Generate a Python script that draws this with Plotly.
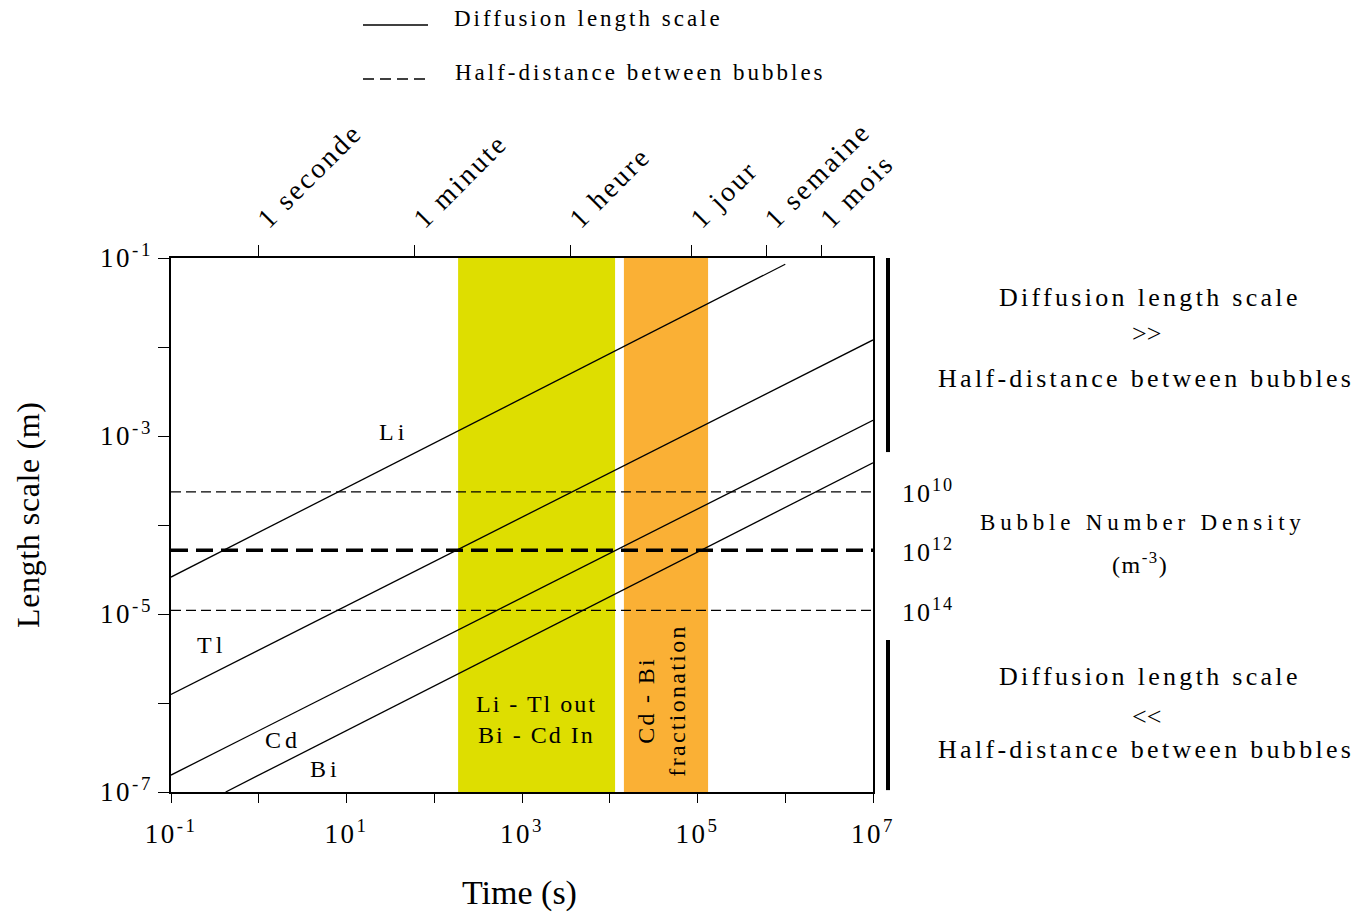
import numpy as np
import plotly.graph_objects as go

# ---------------- data ----------------
# diffusion length scale lines (time in s, length in m)
li_t = [0.1, 1e6]
li_L = [2.6e-5, 8.5e-2]
tl_t = [0.1, 1e7]
tl_L = [1.25e-6, 1.2e-2]
cd_t = [0.1, 1e7]
cd_L = [1.55e-7, 1.5e-3]
bi_t = [0.42, 1e7]
bi_L = [1.0e-7, 5.0e-4]

# half-distance between bubbles for bubble number densities
bnd_labels = ["10<sup>10</sup>", "10<sup>12</sup>", "10<sup>14</sup>"]
half_dist = [2.35e-4, 5.2e-5, 1.1e-5]
time_span = [0.1, 1e7]

# shaded time windows (s)
yellow_band = [187, 1.15e4]
orange_band = [1.45e4, 1.32e5]
length_span = [1e-7, 1e-1]

# regime bars on the right (length ranges, m)
bar_upper = [6.6e-4, 1e-1]
bar_lower = [1.05e-7, 5.1e-6]

# axis ticks
x_tickvals = [1e-1, 1e0, 1e1, 1e2, 1e3, 1e4, 1e5, 1e6, 1e7]
x_ticktext = ["10<sup>-1</sup>", "", "10<sup>1</sup>", "", "10<sup>3</sup>", "", "10<sup>5</sup>", "", "10<sup>7</sup>"]
y_tickvals = [1e-1, 1e-2, 1e-3, 1e-4, 1e-5, 1e-6, 1e-7]
y_ticktext = ["10<sup>-1</sup>", "", "10<sup>-3</sup>", "", "10<sup>-5</sup>", "", "10<sup>-7</sup>"]
top_tickvals = [1, 60, 3600, 86400, 604800, 2592000]
top_ticktext = ["1 seconde", "1 minute", "1 heure", "1 jour", "1 semaine", "1 mois"]

# element labels (position in data coords)
elem_names = ["Li", "Tl", "Cd", "Bi"]
elem_t = [34, 0.29, 1.9, 5.7]
elem_L = [1.1e-3, 4.5e-6, 3.8e-7, 1.8e-7]

FONT = "Liberation Serif"


def ls(text, px):
    if text == "":
        return ""
    return '<span style="letter-spacing:%.1fpx">%s</span>' % (px, text)


fig = go.Figure()


def band(xr, color):
    fig.add_trace(go.Scatter(
        x=[xr[0], xr[1], xr[1], xr[0], xr[0]],
        y=[length_span[0], length_span[0], length_span[1], length_span[1], length_span[0]],
        fill="toself", fillcolor=color, mode="lines", line=dict(width=0, color=color),
        hoverinfo="skip", showlegend=False))


band(yellow_band, "#DEDE00")
band(orange_band, "#FAB035")

# half-distance dashed lines
for i, h in enumerate(half_dist):
    thick = (i == 1)
    fig.add_trace(go.Scatter(
        x=time_span, y=[h, h], mode="lines",
        line=dict(color="black", width=3.6 if thick else 1.3,
                  dash="17px,8px" if thick else "10px,5px"),
        showlegend=False, hoverinfo="skip"))

# diffusion lines
for t, L in [(li_t, li_L), (tl_t, tl_L), (cd_t, cd_L), (bi_t, bi_L)]:
    fig.add_trace(go.Scatter(x=t, y=L, mode="lines",
                             line=dict(color="black", width=1.3),
                             showlegend=False, hoverinfo="skip"))

# invisible trace for top axis
fig.add_trace(go.Scatter(x=[1], y=[1e-3], xaxis="x2", mode="markers",
                         marker=dict(opacity=0), showlegend=False, hoverinfo="skip"))

annotations = []
# element labels
for n, t, L in zip(elem_names, elem_t, elem_L):
    annotations.append(dict(x=np.log10(t), y=np.log10(L), xref="x", yref="y",
                            text=ls(n, 4), showarrow=False, xanchor="center", yanchor="middle",
                            font=dict(family=FONT, size=24, color="black")))

# band labels
annotations.append(dict(x=np.log10(np.sqrt(yellow_band[0] * yellow_band[1])), y=np.log10(6.6e-7),
                        xref="x", yref="y", text=ls("Li - Tl out", 2) + "<br>" + ls("Bi - Cd In", 2),
                        xanchor="center", yanchor="middle",
                        showarrow=False, font=dict(family=FONT, size=24, color="black")))
annotations.append(dict(x=np.log10(3.8e4), y=np.log10(1.08e-6), xref="x", yref="y",
                        text=ls("Cd - Bi", 2.3) + "<br>" + ls("fractionation", 2.3), textangle=-90,
                        xanchor="center", yanchor="middle",
                        showarrow=False, font=dict(family=FONT, size=24, color="black")))

# bubble number density labels
for lab, h in zip(bnd_labels, half_dist):
    annotations.append(dict(x=1.038, y=np.log10(h), xref="paper", yref="y",
                            text=ls(lab, 2), showarrow=False, xanchor="left", yanchor="middle",
                            font=dict(family=FONT, size=26, color="black")))


def px2py(py):
    return (792 - py) / 534.0


def px2px(px):
    return (px - 171) / 702.0


def ypaper(v):
    return (np.log10(v) + 7) / 6.0


right_texts = [
    ("Diffusion length scale", 1150, 297, 26, 3.3),
    ("&gt;&gt;", 1146, 333, 26, 0),
    ("Half-distance between bubbles", 1146, 378, 26, 3.3),
    ("Bubble Number Density", 1143, 522, 23, 4.8),
    ("(m<sup>-3</sup>)", 1140, 563, 24, 1.5),
    ("Diffusion length scale", 1150, 676, 26, 3.3),
    ("&lt;&lt;", 1146, 716, 26, 0),
    ("Half-distance between bubbles", 1146, 749, 26, 3.3),
]
for txt, x, y, sz, sp in right_texts:
    annotations.append(dict(x=px2px(x), y=px2py(y), xref="paper", yref="paper",
                            text=ls(txt, sp) if sp else txt, showarrow=False,
                            xanchor="center", yanchor="middle",
                            font=dict(family=FONT, size=sz, color="black")))

# legend texts
annotations.append(dict(x=px2px(453), y=px2py(19), xref="paper", yref="paper",
                        text=ls("Diffusion length scale", 3), showarrow=False, xanchor="left",
                        yanchor="middle", borderpad=0, font=dict(family=FONT, size=23, color="black")))
annotations.append(dict(x=px2px(453), y=px2py(73), xref="paper", yref="paper",
                        text=ls("Half-distance between bubbles", 3), showarrow=False, xanchor="left",
                        yanchor="middle", font=dict(family=FONT, size=23, color="black")))

# axis titles
annotations.append(dict(x=px2px(28), y=px2py(515), xref="paper", yref="paper",
                        text=ls("Length scale (m)", 0.6), textangle=-90, showarrow=False,
                        xanchor="center", yanchor="middle",
                        font=dict(family=FONT, size=32, color="black")))
annotations.append(dict(x=px2px(519), y=px2py(893), xref="paper", yref="paper",
                        text="Time (s)", showarrow=False, xanchor="center", yanchor="middle",
                        font=dict(family=FONT, size=34, color="black")))

shapes = [
    # legend samples
    dict(type="line", xref="paper", yref="paper", x0=px2px(363), x1=px2px(428),
         y0=px2py(25), y1=px2py(25), line=dict(color="black", width=1.6)),
    dict(type="line", xref="paper", yref="paper", x0=px2px(363), x1=px2px(428),
         y0=px2py(79), y1=px2py(79), line=dict(color="black", width=1.3, dash="11px,6px")),
    # side bars
    dict(type="line", xref="paper", yref="paper", x0=px2px(888), x1=px2px(888),
         y0=ypaper(bar_upper[0]), y1=ypaper(bar_upper[1]), line=dict(color="black", width=4)),
    dict(type="line", xref="paper", yref="paper", x0=px2px(888), x1=px2px(888),
         y0=ypaper(bar_lower[0]), y1=ypaper(bar_lower[1]), line=dict(color="black", width=4)),
]

fig.update_layout(
    width=1370, height=912,
    margin=dict(l=171, r=497, t=258, b=120),
    paper_bgcolor="white", plot_bgcolor="white",
    showlegend=False,
    font=dict(family=FONT, color="black"),
    xaxis=dict(type="log", range=[-1, 7], tickvals=x_tickvals,
               ticktext=[ls(t, 2.5) for t in x_ticktext],
               ticks="outside", ticklen=9, tickwidth=1.3, tickcolor="black",
               showline=True, linecolor="black", linewidth=1.5, mirror=True,
               showgrid=False, zeroline=False, ticklabelstandoff=8,
               tickfont=dict(family=FONT, size=27, color="black")),
    xaxis2=dict(type="log", range=[-1, 7], overlaying="x", side="top",
                tickvals=top_tickvals, ticktext=[ls(t, 2.6) for t in top_ticktext], tickangle=-45,
                ticks="outside", ticklen=12, tickwidth=1.3, tickcolor="black",
                showline=False, showgrid=False, zeroline=False,
                tickfont=dict(family=FONT, size=28, color="black")),
    yaxis=dict(type="log", range=[-7, -1], tickvals=y_tickvals,
               ticktext=[ls(t, 2.5) for t in y_ticktext],
               ticks="outside", ticklen=11, tickwidth=1.3, tickcolor="black",
               showline=True, linecolor="black", linewidth=1.5, mirror=True,
               showgrid=False, zeroline=False,
               tickfont=dict(family=FONT, size=27, color="black")),
    annotations=annotations,
    shapes=shapes,
)

# remove the default page margin so the 1370x912 figure fills the window exactly
fig.write_html("out.html", config={"displayModeBar": False},
               post_script="document.body.style.margin='0';document.body.style.overflow='hidden';")
